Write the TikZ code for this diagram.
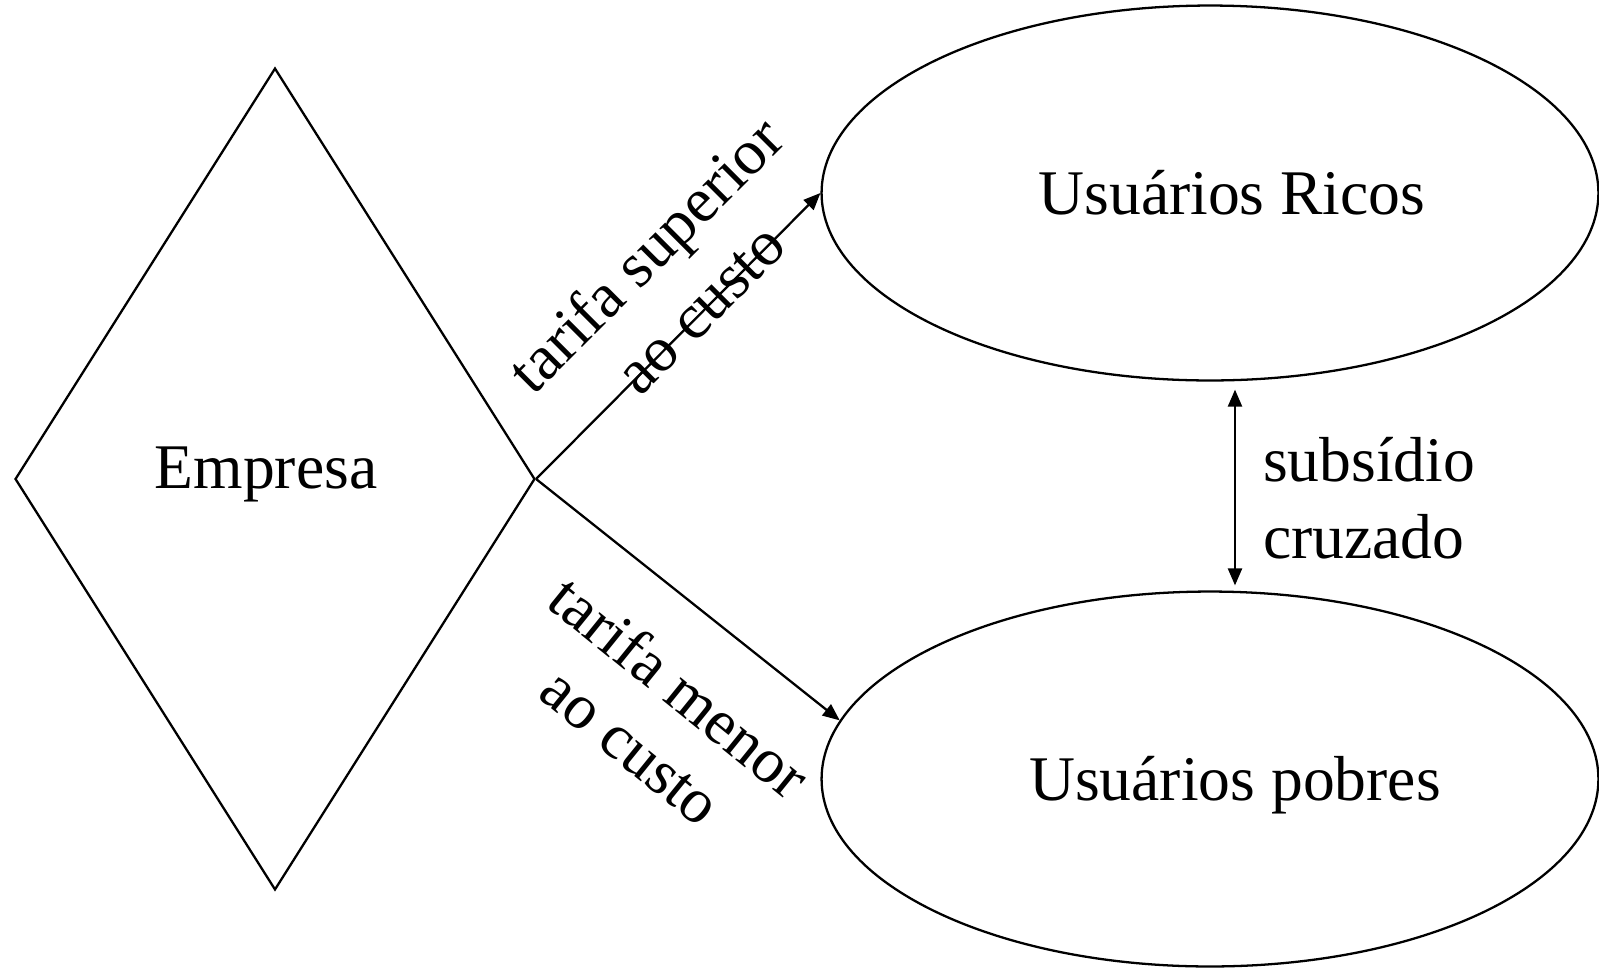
\documentclass[tikz,border=0pt]{standalone}
\usepackage{fontspec}
\setmainfont{Liberation Serif}
\usepackage{tikz}
\usetikzlibrary{arrows.meta,shapes.geometric}

\begin{document}
\begin{tikzpicture}[x=0.02cm,y=-0.02cm,>={Triangle[length=0.34cm,width=0.28cm]},
    line width=1.3pt,font=\fontsize{36.2}{43.5}\selectfont,
    user/.style={draw,ellipse,minimum width=15.54cm,minimum height=7.5cm}]
    \useasboundingbox (0,0) rectangle (1599,968);
    \node[draw,diamond,minimum width=10.4cm,minimum height=16.44cm,
      label={[xshift=-0.18cm,yshift=0.1cm]center:Empresa}] (emp) at (275,479) {};
    \node[user,label={[xshift=0.44cm]center:Usuários Ricos}] (rich) at (1210,193) {};
    \node[user,label={[xshift=0.5cm,yshift=-0.12cm]center:Usuários pobres}] (poor) at (1210,779) {};

    \draw[->] (emp.east) -- (rich.west);
    \draw[->] (emp.east) -- (poor.171);
    \draw[<->,shorten <=0.16cm,shorten >=0.1cm] ([xshift=0.5cm]rich.south) -- ([xshift=0.5cm]poor.north);

    \node[rotate=45,align=center] (up) at (672,281) {tarifa superior\\ao custo};
    \node[rotate=-39,align=center] (down) at (656,716) {tarifa menor\\ao custo};
    \node[anchor=west,align=left,inner sep=0pt] (sub) at (1262,498) {subsídio\\cruzado};
\end{tikzpicture}
\end{document}
